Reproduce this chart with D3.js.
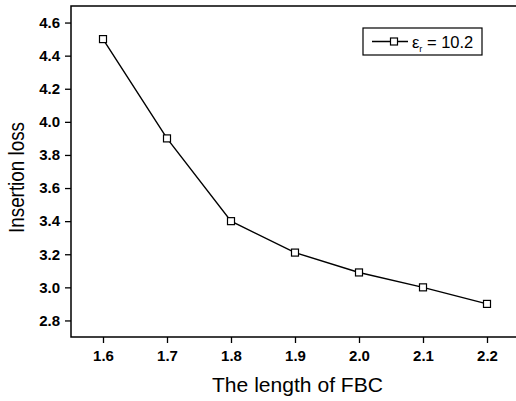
<!DOCTYPE html>
<html>
<head>
<script src="https://d3js.org/d3.v7.min.js"></script>
<style>
  body { margin: 0; background: #fff; }
  text { font-family: "Liberation Sans", Arial, sans-serif; fill: #000; }
</style>
</head>
<body>
<script>
// data
let lengths = [1.6, 1.7, 1.8, 1.9, 2.0, 2.1, 2.2];
let loss = [4.5, 3.9, 3.4, 3.21, 3.09, 3.0, 2.9];
let xTicks = [1.6, 1.7, 1.8, 1.9, 2.0, 2.1, 2.2];
let yTicks = [2.8, 3.0, 3.2, 3.4, 3.6, 3.8, 4.0, 4.2, 4.4, 4.6];
let seriesName = "10.2";

let width = 516, height = 401;
let margin = {left: 71, top: 6, right: 0, bottom: 64};

let svg = d3.select("body").append("svg")
    .attr("width", width)
    .attr("height", height);

let x = d3.scaleLinear().domain([1.55, 2.25])
    .range([margin.left, margin.left + 448]);
let y = d3.scaleLinear().domain([2.7, 4.7])
    .range([height - margin.bottom, margin.top]);

let x0 = margin.left, x1 = width, y0 = height - margin.bottom, y1 = margin.top;

// frame (left, bottom, top)
svg.append("path")
    .attr("d", `M${x1},${y1}H${x0}V${y0}H${x1}`)
    .attr("fill", "none").attr("stroke", "#000").attr("stroke-width", 1.5);

// x axis
let xAxis = svg.append("g").attr("transform", `translate(0,${y0})`);
xAxis.call(d3.axisBottom(x).tickValues(d3.range(1.55, 2.26, 0.05)).tickSize(3).tickFormat(""));
xAxis.call(d3.axisBottom(x).tickValues(xTicks).tickSize(6).tickPadding(5).tickFormat(d3.format(".1f")));
xAxis.select(".domain").remove();
xAxis.selectAll("line").attr("stroke-width", 1.3);
xAxis.selectAll("text").attr("font-size", 15).attr("font-weight", "bold").attr("dy", "0.85em");

// y axis
let yAxis = svg.append("g").attr("transform", `translate(${x0},0)`);
yAxis.call(d3.axisLeft(y).tickValues(d3.range(2.7, 4.71, 0.1)).tickSize(3).tickFormat(""));
yAxis.call(d3.axisLeft(y).tickValues(yTicks).tickSize(6).tickPadding(5).tickFormat(d3.format(".1f")));
yAxis.select(".domain").remove();
yAxis.selectAll("line").attr("stroke-width", 1.3);
yAxis.selectAll("text").attr("font-size", 15).attr("font-weight", "bold");

// line and markers
let pts = lengths.map((d, i) => [d, loss[i]]);
svg.append("path")
    .datum(pts)
    .attr("fill", "none").attr("stroke", "#000").attr("stroke-width", 1.4)
    .attr("d", d3.line().x(d => x(d[0])).y(d => y(d[1])));

svg.selectAll(".pt").data(pts).enter().append("rect")
    .attr("class", "pt")
    .attr("x", d => x(d[0]) - 3.5).attr("y", d => y(d[1]) - 3.5)
    .attr("width", 7).attr("height", 7)
    .attr("fill", "#fff").attr("stroke", "#000").attr("stroke-width", 1.2);

// axis titles
svg.append("text")
    .attr("x", 212).attr("y", 392)
    .attr("font-size", 21)
    .attr("textLength", 171).attr("lengthAdjust", "spacingAndGlyphs")
    .text("The length of FBC");

svg.append("text")
    .attr("transform", "translate(24,233) rotate(-90)")
    .attr("font-size", 22)
    .attr("textLength", 111).attr("lengthAdjust", "spacingAndGlyphs")
    .text("Insertion loss");

// legend
let lg = svg.append("g").attr("transform", "translate(363,28)");
lg.append("rect").attr("width", 119).attr("height", 27)
    .attr("fill", "#fff").attr("stroke", "#000").attr("stroke-width", 1.2);
lg.append("line").attr("x1", 9).attr("x2", 45).attr("y1", 13.5).attr("y2", 13.5)
    .attr("stroke", "#000").attr("stroke-width", 1.4);
lg.append("rect").attr("x", 27.5).attr("y", 10).attr("width", 7).attr("height", 7)
    .attr("fill", "#fff").attr("stroke", "#000").attr("stroke-width", 1.2);
let lt = lg.append("text").attr("x", 49).attr("y", 19.5).attr("font-size", 16.5);
lt.append("tspan").text("\u03b5");
lt.append("tspan").attr("font-size", 9).attr("dy", 4).text("r");
lt.append("tspan").attr("dy", -4).text(" = " + seriesName);
</script>
</body>
</html>
